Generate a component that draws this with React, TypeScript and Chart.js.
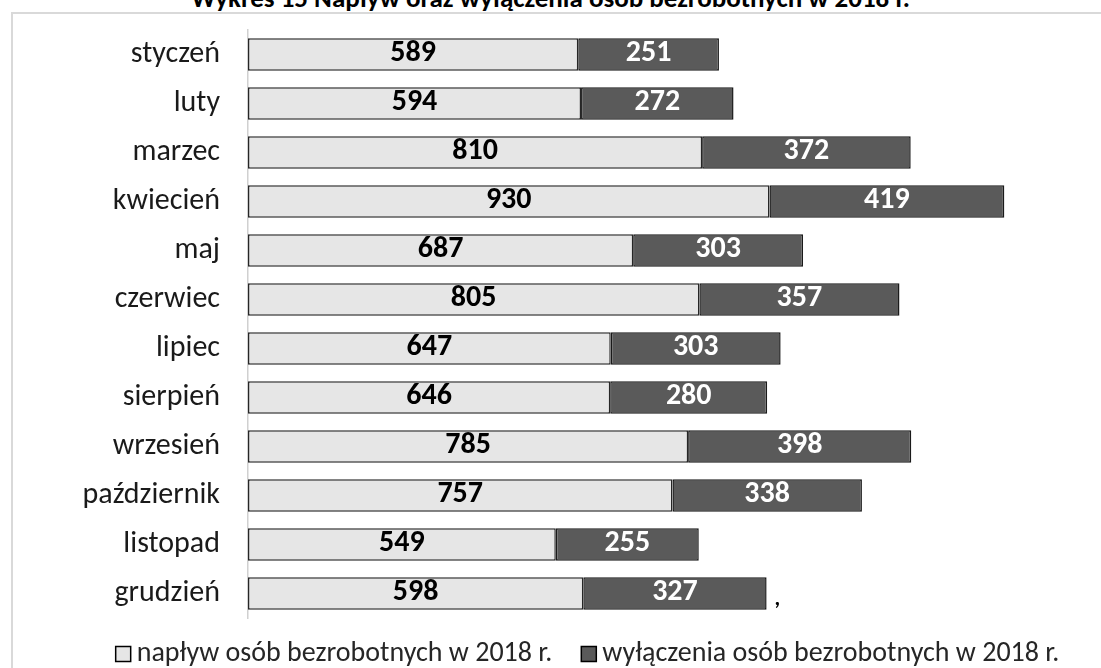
import React, { useEffect, useRef } from "react";
import { Chart, registerables } from "chart.js";

Chart.register(...registerables);

const months = [
  "styczeń", "luty", "marzec", "kwiecień", "maj", "czerwiec",
  "lipiec", "sierpień", "wrzesień", "październik", "listopad", "grudzień",
];
const inflow = [589, 594, 810, 930, 687, 805, 647, 646, 785, 757, 549, 598];
const outflow = [251, 272, 372, 419, 303, 357, 303, 280, 398, 338, 255, 327];
const seriesNames = [
  "napływ osób bezrobotnych w 2018 r.",
  "wyłączenia osób bezrobotnych w 2018 r.",
];
const seriesColors = ["#e6e6e6", "#5a5a5a"];
const titleText = "Wykres 15 Napływ oraz wyłączenia osób bezrobotnych w 2018 r.";

const FONT = "Carlito, 'Open Sans', sans-serif";

const labelPlugin = {
  id: "segLabels",
  afterDatasetsDraw(chart: any) {
    const ctx = chart.ctx;
    ctx.save();
    ctx.font = `bold 30px ${FONT}`;
    ctx.textAlign = "center";
    ctx.textBaseline = "middle";
    chart.data.datasets.forEach((ds: any, di: number) => {
      const meta = chart.getDatasetMeta(di);
      meta.data.forEach((bar: any, i: number) => {
        const p = bar.getProps(["x", "y", "base"], true);
        const cx = (p.x + p.base) / 2;
        ctx.fillStyle = di === 0 ? "#000000" : "#ffffff";
        ctx.fillText(String(ds.data[i]), cx, p.y - 1);
      });
    });
    // stray comma after the last bar, as in the source image
    const lastMeta = chart.getDatasetMeta(chart.data.datasets.length - 1);
    const lastBar = lastMeta.data[lastMeta.data.length - 1];
    if (lastBar) {
      ctx.fillStyle = "#000";
      ctx.font = `bold 22px ${FONT}`;
      ctx.textAlign = "left";
      ctx.fillText(",", lastBar.x + 8, lastBar.y + 6);
    }
    ctx.restore();
  },
};

const legendPlugin = {
  id: "customLegend",
  afterDraw(chart: any) {
    const ctx = chart.ctx;
    ctx.save();
    ctx.font = `28px ${FONT}`;
    ctx.textBaseline = "middle";
    const box = 15;
    const gapText = 6;
    const gapItem = 29;
    const widths = chart.data.datasets.map((d: any) => ctx.measureText(d.label).width);
    const total = widths.reduce((a: number, w: number) => a + box + gapText + w, 0) + gapItem * (widths.length - 1);
    let x = chart.width / 2 + 37 - total / 2;
    const y = chart.height - 14;
    chart.data.datasets.forEach((d: any, i: number) => {
      ctx.fillStyle = d.backgroundColor;
      ctx.fillRect(x, y - box / 2, box, box);
      ctx.strokeStyle = "#000";
      ctx.lineWidth = 1.5;
      ctx.strokeRect(x, y - box / 2, box, box);
      x += box + gapText;
      ctx.fillStyle = "#262626";
      ctx.textAlign = "left";
      ctx.fillText(d.label, x, y);
      x += widths[i] + gapItem;
    });
    ctx.restore();
  },
};

export default function App() {
  const ref = useRef<HTMLCanvasElement>(null);
  useEffect(() => {
    if (!ref.current) return;
    const chart = new Chart(ref.current, {
      type: "bar",
      data: {
        labels: months,
        datasets: [
          {
            label: seriesNames[0],
            data: inflow,
            backgroundColor: seriesColors[0],
            borderColor: "#262626",
            borderWidth: 1.5,
            borderSkipped: false,
          },
          {
            label: seriesNames[1],
            data: outflow,
            backgroundColor: seriesColors[1],
            borderColor: "#1a1a1a",
            borderWidth: 1.5,
            borderSkipped: false,
          },
        ],
      },
      options: {
        indexAxis: "y",
        animation: false,
        responsive: false,
        maintainAspectRatio: false,
        layout: { padding: { top: 30, right: 12, left: 0, bottom: 50 } },
        datasets: { bar: { categoryPercentage: 1, barPercentage: 0.66 } },
        scales: {
          x: {
            stacked: true,
            min: 0,
            max: 1500,
            display: false,
          },
          y: {
            stacked: true,
            grid: { display: false },
            border: { display: true, color: "#d0d0d0", width: 1.5 },
            ticks: {
              color: "#1a1a1a",
              font: { family: FONT, size: 30 },
              padding: 20,
            },
            afterFit: (s: any) => {
              s.width = 248;
              s.paddingTop = 0;
              s.paddingBottom = 0;
            },
          },
        },
        plugins: {
          legend: { display: false },
          tooltip: { enabled: false },
        },
      },
      plugins: [labelPlugin, legendPlugin],
    });
    return () => chart.destroy();
  }, []);

  return (
    <div style={{ position: "fixed", left: 0, top: 0, width: 1101, height: 668, overflow: "hidden", background: "#fff" }}>
      <div
        style={{
          position: "absolute",
          left: 11,
          top: 12,
          width: 1300,
          height: 900,
          border: "2px solid #d9d9d9",
        }}
      />
      <div
        style={{
          position: "absolute",
          left: 0,
          top: -17,
          width: 1101,
          textAlign: "center",
          fontFamily: FONT,
          fontWeight: "bold",
          fontSize: 27,
          color: "#000",
          lineHeight: "30px",
        }}
      >
        {titleText}
      </div>
      <canvas ref={ref} width={1101} height={668} style={{ position: "absolute", left: 0, top: 0 }} />
    </div>
  );
}
